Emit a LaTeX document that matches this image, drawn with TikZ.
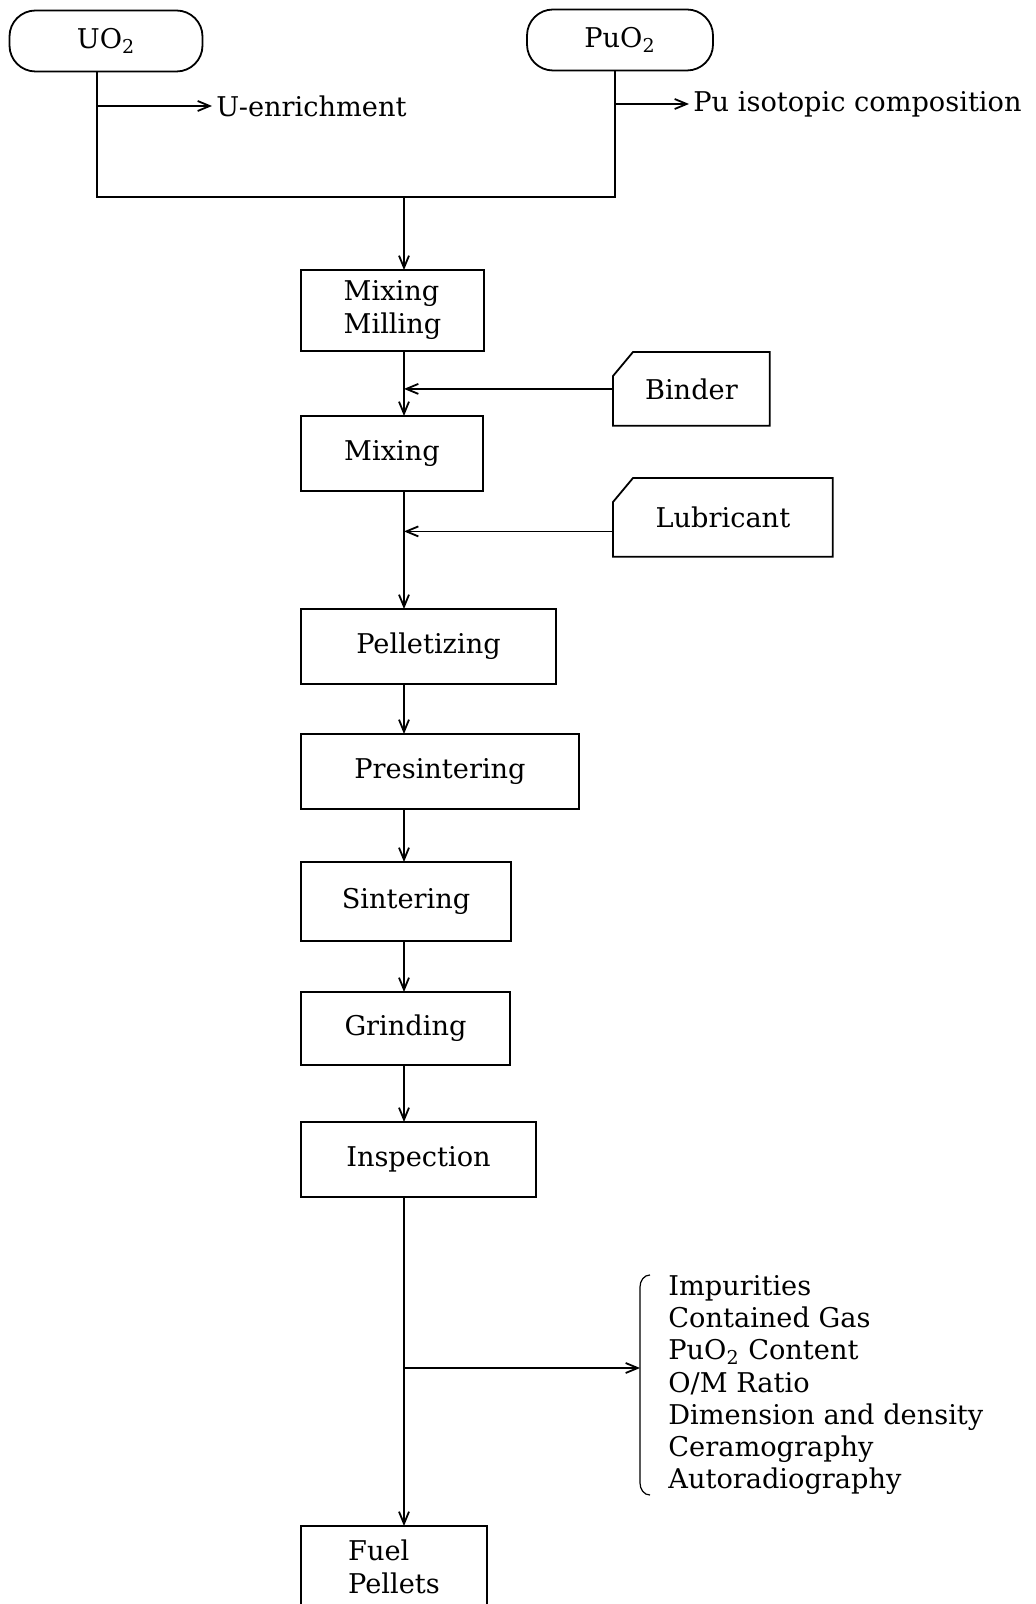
\documentclass[tikz,border=0pt]{standalone}
\usepackage{fontspec}
\setmainfont{DejaVu Serif}
\usepackage{tikz}
\usetikzlibrary{positioning,arrows.meta}

\tikzset{
  txt/.style={font=\fontsize{13.6}{16.5}\selectfont},
  proc/.style={txt, draw, line width=0.9pt, outer sep=0pt, minimum height=37.5pt, align=center},
  src/.style={txt, draw, line width=0.9pt, rounded corners=13pt, minimum height=30.5pt},
  supply/.style={txt, minimum height=36.5pt},
  flow/.style={line width=0.9pt, -{Straight Barb[length=6pt,width=5pt]}},
  wire/.style={line width=0.9pt}
}

\begin{document}
\begin{tikzpicture}[x=0.5pt,y=-0.5pt]
	  \useasboundingbox (0,0) rectangle (1035,1604);

	  % raw materials
	  \node[src, minimum width=96.5pt] (uo2) at (106,41) {UO\textsubscript{2}} ; %
	  \node[src, minimum width=93pt] (puo2) at (620,40) {PuO\textsubscript{2}} ; %
	  \node[txt, anchor=west, inner sep=2pt] (uenr) at (212,106) {U-enrichment};
	  \node[txt, anchor=west, inner sep=2pt] (piso) at (689,104) {Pu isotopic composition};

	  \coordinate (ujoin) at (97,197);
	  \coordinate (pjoin) at (615,197);
	  \coordinate (trunk) at (404,197);

	  % process chain
	  \node[proc, minimum width=91.5pt, minimum height=40.5pt, anchor=north west, align=left] (mill) at (301,270) {Mixing\\Milling};
	  \node[proc, minimum width=91pt, below=32.5pt of mill.south west, anchor=north west] (mix) {Mixing};
	  \node[proc, minimum width=127.5pt, below=59pt of mix.south west, anchor=north west] (pellet) {Pelletizing};
	  \node[proc, minimum width=139pt, below=25pt of pellet.south west, anchor=north west] (presint) {Presintering};
	  \node[proc, minimum width=105pt, minimum height=39.5pt, below=26.5pt of presint.south west, anchor=north west] (sint) {Sintering};
	  \node[proc, minimum width=104.5pt, minimum height=36.5pt, below=25.5pt of sint.south west, anchor=north west] (grind) {Grinding};
	  \node[proc, minimum width=117.5pt, below=28.5pt of grind.south west, anchor=north west] (insp) {Inspection};
	  \node[proc, minimum width=93pt, minimum height=41pt, below=164.5pt of insp.south west, anchor=north west, align=left] (fuel) {Fuel\\Pellets};

	  % additives
	  \node[supply, minimum width=78pt, anchor=north west] (bind) at (613,352) {Binder};
	  \node[supply, minimum width=109.5pt, minimum height=39pt, anchor=north west] (lub) at (613,478) {Lubricant};
	  \foreach \s in {bind,lub}
	    \draw[wire] ([xshift=10pt]\s.north west) -- (\s.north east) -- (\s.south east)
	      -- (\s.south west) -- ([yshift=-12pt]\s.north west) -- cycle;

	  % inspection items
	  \node[txt, font=\fontsize{13.6}{16.1}\selectfont, align=left, anchor=west, inner sep=0pt] (tests) at (668,1385)
	    {Impurities\\Contained Gas\\PuO\textsubscript{2} Content\\O/M Ratio\\Dimension and density\\Ceramography\\Autoradiography};
	  \coordinate (btop) at ([xshift=-9pt]tests.north west);
	  \coordinate (bbot) at ([xshift=-9pt]tests.south west);
	  \coordinate (bline) at ([xshift=-14pt]tests.west);
	  \coordinate (branch) at (404,1368);

	  \draw[wire] (ujoin |- uo2.south) -- (ujoin) -- (pjoin) -- (pjoin |- puo2.south);
	  \draw[flow] (ujoin |- uenr.west) -- (uenr.west);
	  \draw[flow] (pjoin |- piso.west) -- (piso.west);
	  \draw[flow] (trunk) -- (mill.north -| trunk);

	  \foreach \a/\b in {mill/mix, mix/pellet, pellet/presint, presint/sint, sint/grind, grind/insp, insp/fuel}
	    \draw[flow] (\a.south -| trunk) -- (\b.north -| trunk);

	  \draw[flow] (bind.west) -- (bind.west -| trunk);
	  \draw[flow] ([yshift=-7pt]lub.west) -- ([yshift=-7pt]lub.west -| trunk);

	  \draw[line width=0.6pt] (btop) to[out=180,in=90] ([xshift=-5pt,yshift=-6pt]btop)
	    -- ([xshift=-5pt,yshift=6pt]bbot) to[out=-90,in=180] (bbot);
	  \draw[flow] (branch) -- (bline |- branch);

\end{tikzpicture}
\end{document}
